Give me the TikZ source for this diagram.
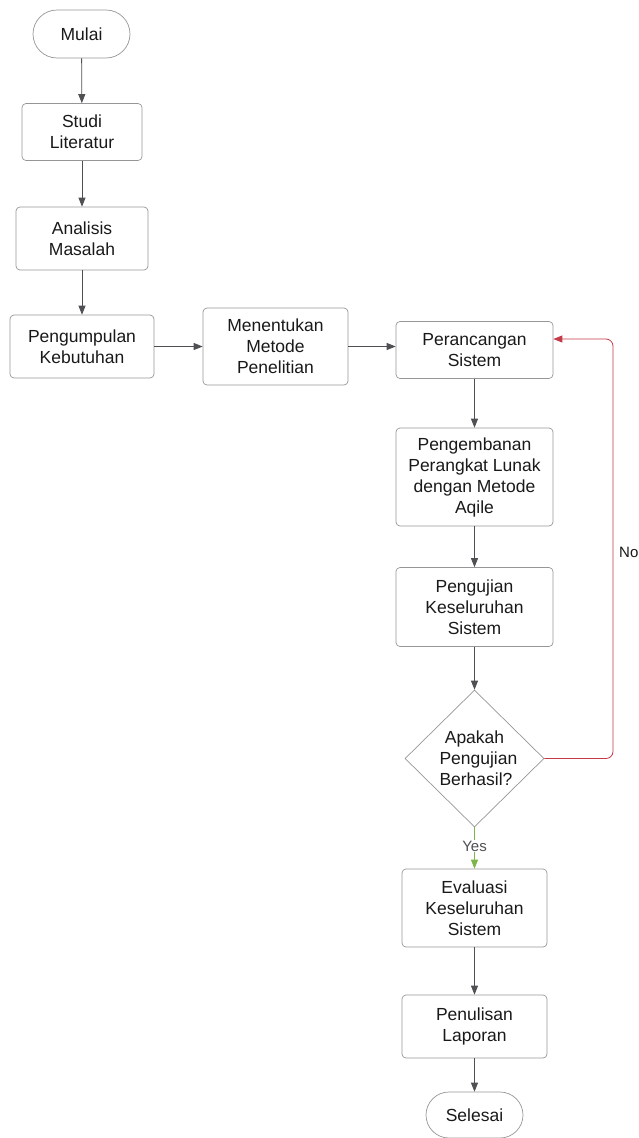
\documentclass[tikz,border=0pt]{standalone}
\usepackage{fontspec}
\setmainfont{Liberation Sans}
\usetikzlibrary{shapes.geometric,arrows.meta}
\definecolor{boxline}{RGB}{150,150,150}
\definecolor{conn}{RGB}{80,80,84}
\definecolor{noline}{RGB}{196,58,72}
\definecolor{yesline}{RGB}{122,182,72}
\definecolor{txt}{RGB}{25,25,25}
\tikzset{
  x=1pt,y=1pt,
  base/.style={draw=boxline,line width=0.7pt,text=txt,align=center,inner sep=0pt,
    font=\fontsize{17.5}{21}\selectfont},
  proc/.style={base,rectangle,rounded corners=4pt},
  term/.style={base,rectangle,rounded corners=24pt},
  decis/.style={base,diamond,text width=70pt,minimum width=139pt,minimum height=137pt},
  arr/.style={draw=conn,line width=0.8pt,-{Triangle[length=9pt,width=7pt]}},
  lbl/.style={font=\fontsize{15}{18}\selectfont,text=txt,inner sep=1pt}
}
\begin{document}
\begin{tikzpicture}
\useasboundingbox (0,0) rectangle (638,-1138);
\node[term,minimum width=97pt,minimum height=48pt] (mulai) at (81.5,-34) {Mulai};
\node[proc,minimum width=120pt,minimum height=57pt] (studi) at (82,-132) {Studi\\Literatur};
\node[proc,minimum width=132pt,minimum height=63pt] (anal) at (82,-238.5) {Analisis\\Masalah};
\node[proc,minimum width=144pt,minimum height=63pt] (kumpul) at (82,-346.5) {Pengumpulan\\Kebutuhan};
\node[proc,minimum width=145pt,minimum height=77pt] (metode) at (275.5,-346.5) {Menentukan\\Metode\\Penelitian};
\node[proc,minimum width=157pt,minimum height=57pt] (rancang) at (474.5,-350) {Perancangan\\Sistem};
\node[proc,minimum width=157pt,minimum height=98pt] (kembang) at (474.5,-477) {Pengembanan\\Perangkat Lunak\\dengan Metode\\Aqile};
\node[proc,minimum width=157pt,minimum height=79pt] (uji) at (474.5,-607) {Pengujian\\Keseluruhan\\Sistem};
\node[decis] (hasil) at (474.5,-758.5) {Apakah\\Pengujian\\Berhasil?};
\node[proc,minimum width=145pt,minimum height=78pt] (evalu) at (474.5,-908) {Evaluasi\\Keseluruhan\\Sistem};
\node[proc,minimum width=145pt,minimum height=63pt] (tulis) at (474.5,-1026.5) {Penulisan\\Laporan};
\node[term,minimum width=97pt,minimum height=46pt,rounded corners=23pt] (selesai) at (474.5,-1115) {Selesai};

\draw[arr] (mulai) -- (studi);
\draw[arr] (studi) -- (anal);
\draw[arr] (anal) -- (kumpul);
\draw[arr] (kumpul) -- (metode);
\draw[arr] (metode.east) -- (metode.east -| rancang.west);
\draw[arr] (rancang) -- (kembang);
\draw[arr] (kembang) -- (uji);
\draw[arr] (uji) -- (hasil);
\draw[arr,draw=yesline] (hasil.south) -- (evalu.north)
  node[pos=0.45,lbl,fill=white,text=conn] (yes) {Yes};
\draw[arr] (evalu) -- (tulis);
\draw[arr] (tulis) -- (selesai);
\coordinate (loopin) at ([yshift=11pt]rancang.east);
\coordinate (loopx) at (613,-758.5);
\draw[arr,draw=noline,rounded corners=7pt] (hasil.east) -- (loopx) |- (loopin);
\node[lbl,anchor=west] (no) at (618,-552) {No};
\end{tikzpicture}
\end{document}
